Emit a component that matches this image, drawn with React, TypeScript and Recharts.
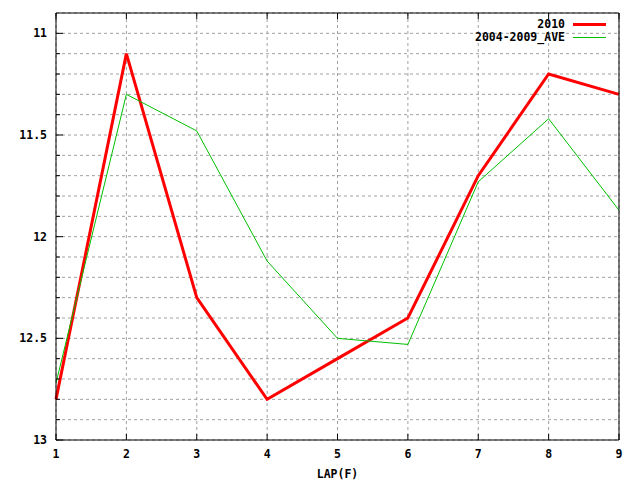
import { LineChart, Line, XAxis, YAxis, CartesianGrid, Legend } from 'recharts';

const laps = [1, 2, 3, 4, 5, 6, 7, 8, 9];
const times2010 = [12.8, 11.1, 12.3, 12.8, 12.6, 12.4, 11.7, 11.2, 11.3];
const timesAve = [12.72, 11.3, 11.48, 12.12, 12.5, 12.53, 11.73, 11.42, 11.87];

const yTicks = [
  11, 11.1, 11.2, 11.3, 11.4, 11.5, 11.6, 11.7, 11.8, 11.9,
  12, 12.1, 12.2, 12.3, 12.4, 12.5, 12.6, 12.7, 12.8, 12.9, 13,
];
const yLabels = ['11', '11.5', '12', '12.5', '13'];

const seriesNames = ['2010', '2004-2009_AVE'];

const data = laps.map((lap, i) => ({
  lap,
  y2010: times2010[i],
  ave: timesAve[i],
}));

const FONT = '"DejaVu Sans Mono", monospace';

function labelFor(v: number) {
  const s = String(Math.round(v * 10) / 10);
  return yLabels.includes(s) ? s : null;
}

function LeftTick(props: any) {
  const { x, y, payload } = props;
  const label = labelFor(payload.value);
  return (
    <g>
      <line x1={x} x2={x + (label ? 7 : 4)} y1={y} y2={y} stroke="#000" />
      {label && (
        <text x={x - 9} y={y} dy={4} textAnchor="end" fontFamily={FONT} fontSize={11.5} fontWeight="bold" fill="#000">
          {label}
        </text>
      )}
    </g>
  );
}

function RightTick(props: any) {
  const { x, y, payload } = props;
  const label = labelFor(payload.value);
  return <line x1={x} x2={x - (label ? 7 : 4)} y1={y} y2={y} stroke="#000" />;
}

function BottomTick(props: any) {
  const { x, y, payload } = props;
  return (
    <g>
      <line x1={x} x2={x} y1={y} y2={y - 6} stroke="#000" />
      <text x={x} y={y + 18} textAnchor="middle" fontFamily={FONT} fontSize={11.5} fontWeight="bold" fill="#000">
        {payload.value}
      </text>
    </g>
  );
}

function TopTick(props: any) {
  const { x, y } = props;
  return <line x1={x} x2={x} y1={y} y2={y + 6} stroke="#000" />;
}

function LegendBox() {
  const colors = ['#ff0000', '#00c000'];
  const widths = [3, 1];
  return (
    <div style={{ width: 640, fontFamily: FONT, fontSize: 11.5, fontWeight: 'bold', lineHeight: '13px' }}>
      {seriesNames.map((name, i) => (
        <div key={name} style={{ display: 'flex', justifyContent: 'flex-end', alignItems: 'center', paddingRight: 34 }}>
          <span>{name}</span>
          <svg width={33} height={13} style={{ marginLeft: 8 }}>
            <line x1={0} x2={33} y1={6.5} y2={6.5} stroke={colors[i]} strokeWidth={widths[i]} />
          </svg>
        </div>
      ))}
    </div>
  );
}

export default function App() {
  return (
    <div style={{ position: 'absolute', left: 0, top: 0, background: '#fff' }}>
      <LineChart width={640} height={480} data={data} margin={{ top: 12, right: 0, left: 0, bottom: 0 }}>
        <CartesianGrid stroke="#a0a0a0" strokeDasharray="3 3" />
        <XAxis
          dataKey="lap"
          type="number"
          domain={[1, 9]}
          ticks={laps}
          height={40}
          tickSize={0}
          tickMargin={0}
          axisLine={{ stroke: '#000' }}
          tick={BottomTick}
          label={{ value: 'LAP(F)', position: 'insideBottom', offset: 2, fontFamily: FONT, fontSize: 11.5, fontWeight: 'bold', fill: '#000' }}
        />
        <XAxis
          xAxisId="t"
          orientation="top"
          dataKey="lap"
          type="number"
          domain={[1, 9]}
          ticks={laps}
          height={1}
          tickSize={0}
          tickMargin={0}
          axisLine={{ stroke: '#000' }}
          tick={TopTick}
        />
        <YAxis
          type="number"
          domain={[10.9, 13]}
          reversed
          ticks={yTicks}
          interval={0}
          width={56}
          tickSize={0}
          tickMargin={0}
          axisLine={{ stroke: '#000' }}
          tick={LeftTick}
        />
        <YAxis
          yAxisId="r"
          orientation="right"
          type="number"
          domain={[10.9, 13]}
          reversed
          ticks={yTicks}
          interval={0}
          width={21}
          tickSize={0}
          tickMargin={0}
          axisLine={{ stroke: '#000' }}
          tick={RightTick}
        />
        <Legend
          layout="horizontal"
          verticalAlign="middle"
          align="center"
          wrapperStyle={{ top: 18, left: 0, width: 640 }}
          content={() => <LegendBox />}
        />
        <Line
          dataKey="y2010"
          name={seriesNames[0]}
          type="linear"
          stroke="#ff0000"
          strokeWidth={3}
          dot={false}
          isAnimationActive={false}
        />
        <Line
          dataKey="ave"
          name={seriesNames[1]}
          type="linear"
          stroke="#00c000"
          strokeWidth={1}
          dot={false}
          isAnimationActive={false}
        />
      </LineChart>
    </div>
  );
}
